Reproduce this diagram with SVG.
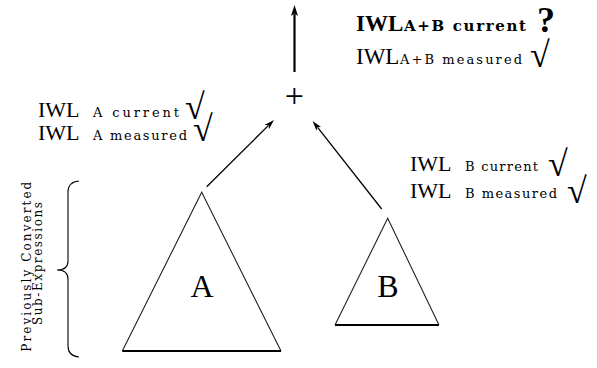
<svg xmlns="http://www.w3.org/2000/svg" width="597" height="368" viewBox="0 0 597 368">
<style>
text{font-family:"Liberation Serif","DejaVu Serif",serif;fill:#000}
.dv{font-family:"DejaVu Serif","Liberation Serif",serif}
.b{font-weight:bold}
.big{font-size:23px}
.mid{font-size:22px}
.sub{font-size:15px}
.subs{font-size:13px}
.chk{font-family:"Liberation Serif",serif;font-size:36px}
.tri{fill:none;stroke:#222;stroke-width:1.1}
.base{stroke:#000;stroke-width:2.2}
.conn{fill:none;stroke:#000;stroke-width:1.3}
</style>
<defs>
<marker id="hb" markerUnits="userSpaceOnUse" markerWidth="11" markerHeight="7" refX="2" refY="3.5" orient="auto"><path d="M0,0 L11,3.5 L0,7 L2.5,3.5 z" fill="#000"/></marker>
<marker id="hs" markerUnits="userSpaceOnUse" markerWidth="10" markerHeight="6" refX="2" refY="3" orient="auto"><path d="M0,0 L10,3 L0,6 L2.5,3 z" fill="#000"/></marker>
</defs>
<g id="connectors">
<line x1="294.5" y1="72" x2="294.5" y2="14" stroke="#000" stroke-width="2.2" marker-end="url(#hb)"/>
<line class="conn" x1="206.7" y1="186.7" x2="268.3" y2="125.6" marker-end="url(#hs)"/>
<line class="conn" x1="381.7" y1="209" x2="317.6" y2="127.3" marker-end="url(#hs)"/>
</g>
<g id="plus"><text x="294.3" y="107" font-size="34" text-anchor="middle">+</text></g>
<g id="labelAB">
<text class="big b" x="356" y="31">IWL</text>
<text class="dv sub b" x="404" y="31" textLength="122" lengthAdjust="spacing">A+B current</text>
<text class="b" x="537" y="32" font-size="36">?</text>
<text class="big" x="356" y="63.5">IWL</text>
<text class="dv subs" x="400" y="63.5" textLength="122" lengthAdjust="spacing">A+B measured</text>
<text class="chk" x="530" y="67">√</text>
</g>
<g id="labelA">
<text class="mid" x="38" y="116.7">IWL</text>
<text class="dv subs" x="93" y="116.7" textLength="86" lengthAdjust="spacing">A current</text>
<text class="chk" x="185" y="119">√</text>
<text class="mid" x="38" y="140">IWL</text>
<text class="dv subs" x="93" y="140" textLength="94" lengthAdjust="spacing">A measured</text>
<text class="chk" x="193" y="141">√</text>
</g>
<g id="labelB">
<text class="mid" x="410" y="171">IWL</text>
<text class="dv subs" x="465" y="171" textLength="73" lengthAdjust="spacing">B current</text>
<text class="chk" x="548" y="176">√</text>
<text class="mid" x="410" y="197.5">IWL</text>
<text class="dv subs" x="465" y="197.5" textLength="92" lengthAdjust="spacing">B measured</text>
<text class="chk" x="567" y="203">√</text>
</g>
<g id="treeA">
<polyline class="tri" points="122.3,351 201.7,192.3 281,351"/>
<line class="base" x1="122.3" y1="351" x2="281" y2="351"/>
<text x="202" y="296.7" font-size="32" text-anchor="middle">A</text>
</g>
<g id="treeB">
<polyline class="tri" points="335,325 387.7,218.3 439,325"/>
<line class="base" x1="335" y1="325" x2="439" y2="325"/>
<text x="388" y="296.7" font-size="32" text-anchor="middle">B</text>
</g>
<g id="brace">
<path d="M79,181 Q68,182 68,192 L68,261 Q68,270 57,270 Q68,270 68,279 L68,346 Q68,356 79,357" fill="none" stroke="#000" stroke-width="1.1"/>
<text class="dv" transform="translate(31,266.7) rotate(-90)" font-size="12" text-anchor="middle" textLength="170" lengthAdjust="spacing">Previously Converted</text>
<text class="dv" transform="translate(41.5,263.5) rotate(-90)" font-size="12" text-anchor="middle" textLength="123" lengthAdjust="spacing">Sub-Expressions</text>
</g>
</svg>
